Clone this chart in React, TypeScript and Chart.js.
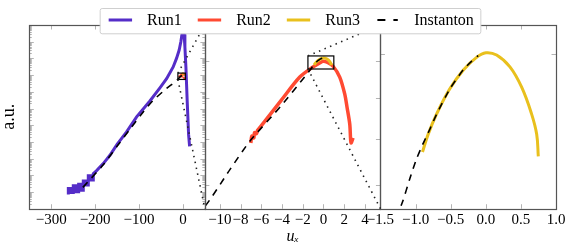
import React, { useEffect, useRef } from 'react';
import { Chart, registerables } from 'chart.js';

Chart.register(...registerables);

const FONT = "'Liberation Serif', 'DejaVu Serif', serif";

// ---- legend / series ----
const LEGEND_LABELS = ['Run1', 'Run2', 'Run3', 'Instanton'];
const SERIES_COLORS = ['#552dc8', '#ff4a32', '#e9c01d', '#000000'];
const SERIES_WIDTHS = [3, 3.5, 3, 1.6];
const INSTANTON_DASH = [7, 6];

// ---- axes (x in u_x, y in log10 of a.u.) ----
const X1_RANGE = [-350, 50];
const X2_RANGE = [-11.45, 5.5];
const X3_RANGE = [-1.5, 1.0];
const Y1_RANGE = [-11, 0];
const Y2_RANGE = [-3.26, -2.88];
const Y3_RANGE = [-2.971, -2.944];

const X1_TICKS = [-300, -200, -100, 0];
const X1_LABELS = ['−300', '−200', '−100', '0'];
const X2_TICKS = [-10, -8, -6, -4, -2, 0, 2, 4];
const X2_LABELS = ['−10', '−8', '−6', '−4', '−2', '0', '2', '4'];
const X3_TICKS = [-1.5, -1.0, -0.5, 0.0, 0.5, 1.0];
const X3_LABELS = ['−1.5', '−1.0', '−0.5', '0.0', '0.5', '1.0'];
const X_TITLE = 'uₓ';
const Y_TITLE = 'a.u.';

const Y1_MAJOR = [-10, -9, -8, -7, -6, -5, -4, -3, -2, -1];
const Y1_DECADES = [-11, -10, -9, -8, -7, -6, -5, -4, -3, -2, -1];
const Y1_MINOR_OFFSETS = [0.301, 0.477, 0.602, 0.699, 0.778, 0.845, 0.903, 0.954];
const Y2_TICKS = [-2.955, -3.032, -3.116, -3.211];
const Y3_TICKS = [-2.9483];

// ---- data ----
const RUN1_X = [-261.1, -261.1, -255.8, -255.8, -249.8, -249.8, -243.7, -243.7, -237.6, -237.6, -231.5, -231.5, -227, -227, -220.9, -220.9, -215.6, -215.6, -210.3, -210.3, -204.2, -204.2, -196.6, -181.5, -166.3, -150, -128.3, -105.5, -75.2, -52.4, -37.2, -22.2, -14.6, -8.5, -4.6, -2.4, 0.5, 2.6, 4.5, 6.8, 9.7, 12.9, 15.2];
const RUN1_Y = [-10.15, -9.79, -9.79, -10.03, -10.03, -9.62, -9.62, -9.99, -9.99, -9.54, -9.54, -9.89, -9.89, -9.34, -9.34, -9.58, -9.58, -9.02, -9.02, -9.28, -9.28, -8.9, -8.72, -8.3, -7.8, -7.15, -6.4, -5.5, -4.55, -3.76, -3.21, -2.51, -2.0, -1.5, -0.99, -0.59, -0.4, -0.55, -1.3, -2.51, -4.53, -6.55, -7.26];

const RUN2_X = [-7.01, -6.916, -6.723, -6.658, -6.465, -6.369, -6.144, -4.1, -2.285, -1.0, -0.356, -0.04, 0.4, 0.927, 1.57, 2.05, 2.28, 2.54, 2.66, 2.86];
const RUN2_Y = [-3.1238, -3.1098, -3.1133, -3.1028, -3.1049, -3.0979, -3.0923, -3.0365, -2.9877, -2.9667, -2.9583, -2.955, -2.9575, -2.9653, -2.9877, -3.0225, -3.0505, -3.0853, -3.1238, -3.1133];

const RUN3_X = [-0.901, -0.821, -0.701, -0.512, -0.322, -0.131, 0.002, 0.154, 0.344, 0.511, 0.653, 0.725, 0.748];
const RUN3_Y = [-2.96266, -2.96007, -2.9571, -2.95338, -2.95065, -2.94876, -2.94808, -2.94842, -2.95016, -2.95314, -2.9571, -2.96007, -2.9633];

const INST_X = [-228, -181.5, -149.7, -122.3, -96.4, -69.1, -39.5, -20, -11.45, -9, -7.11, -4.0, -2.0, -1.186, -1.082, -0.987, -0.9, -0.8, -0.7, -0.512, -0.322, -0.2, -0.108];
const INST_Y = [-9.72, -8.37, -7.25, -6.3, -5.4, -4.55, -3.85, -3.45, -3.255, -3.178, -3.1203, -3.045, -2.992, -2.97, -2.9666, -2.9637, -2.9616, -2.9594, -2.9571, -2.9534, -2.9506, -2.9493, -2.9485];

const TICK_COLOR = '#b4b4b4';
const FRAME_COLOR = '#555555';

const pts = (xs: number[], ys: number[]) => xs.map((x, i) => ({ x, y: ys[i] }));

function series(idx: number, xs: number[], ys: number[], p: number, tension: number) {
  const ds: any = {
    label: LEGEND_LABELS[idx],
    data: pts(xs, ys),
    xAxisID: 'x' + p,
    yAxisID: 'y' + p,
    borderColor: SERIES_COLORS[idx],
    backgroundColor: SERIES_COLORS[idx],
    borderWidth: SERIES_WIDTHS[idx],
    pointRadius: 0,
    pointHoverRadius: 0,
    fill: false,
    tension,
    order: 3 - idx,
  };
  if (idx === 3) ds.borderDash = INSTANTON_DASH;
  return ds;
}

function xScale(range: number[], ticks: number[], labels: string[], title?: string) {
  return {
    type: 'linear',
    position: 'bottom',
    stack: 'panels',
    stackWeight: 1,
    min: range[0],
    max: range[1],
    afterBuildTicks: (axis: any) => {
      axis.ticks = ticks.map((v) => ({ value: v }));
    },
    ticks: {
      autoSkip: false,
      maxRotation: 0,
      minRotation: 0,
      padding: 3.8,
      color: '#000',
      font: { family: FONT, size: 15, lineHeight: 1.0 },
      callback: (_v: any, i: number) => labels[i],
    },
    grid: { display: false, drawTicks: false },
    border: { display: false },
    title: title
      ? { display: true, text: title, color: '#000', font: { family: FONT, size: 16, style: 'italic', lineHeight: 0.95 }, padding: { top: -2.2, bottom: 4.5 } }
      : { display: false },
  };
}

function yScale(range: number[], visible: boolean) {
  return {
    type: 'linear',
    position: 'left',
    display: visible,
    min: range[0],
    max: range[1],
    ticks: { display: false },
    grid: { display: false, drawTicks: false },
    border: { display: false },
    title: visible
      ? { display: true, text: Y_TITLE, color: '#000', font: { family: FONT, size: 18, lineHeight: 1.0 }, padding: { top: 0, bottom: 11.3 } }
      : { display: false },
  };
}

const clipPlugin = {
  id: 'panelClip',
  beforeDatasetDraw(chart: any, args: any) {
    const { xScale: xs, yScale: ys } = args.meta;
    const ctx = chart.ctx;
    ctx.save();
    ctx.beginPath();
    ctx.rect(xs.left, ys.top, xs.right - xs.left, ys.bottom - ys.top);
    ctx.clip();
  },
  afterDatasetDraw(chart: any) {
    chart.ctx.restore();
  },
};

const framePlugin = {
  id: 'panelFrames',
  afterDatasetsDraw(chart: any) {
    const ctx = chart.ctx;
    const panels = [
      { x: 'x1', y: 'y1', xt: X1_TICKS, yMaj: Y1_MAJOR, yMin: Y1_DECADES.flatMap((d) => Y1_MINOR_OFFSETS.map((o) => d + o)) },
      { x: 'x2', y: 'y2', xt: X2_TICKS, yMaj: Y2_TICKS, yMin: [] as number[] },
      { x: 'x3', y: 'y3', xt: X3_TICKS, yMaj: Y3_TICKS, yMin: [] as number[] },
    ];
    ctx.save();
    for (const p of panels) {
      const xs = chart.scales[p.x];
      const ys = chart.scales[p.y];
      const L = xs.left, R = xs.right, T = ys.top, B = ys.bottom;
      ctx.strokeStyle = TICK_COLOR;
      ctx.lineWidth = 1;
      ctx.beginPath();
      for (const v of p.xt) {
        const px = Math.round(xs.getPixelForValue(v)) + 0.5;
        ctx.moveTo(px, B); ctx.lineTo(px, B - 4.5);
        ctx.moveTo(px, T); ctx.lineTo(px, T + 4.5);
      }
      for (const v of p.yMaj) {
        const py = Math.round(ys.getPixelForValue(v)) + 0.5;
        ctx.moveTo(L, py); ctx.lineTo(L + 4.5, py);
        ctx.moveTo(R, py); ctx.lineTo(R - 4.5, py);
      }
      for (const v of p.yMin) {
        if (v <= ys.min || v >= ys.max) continue;
        const py = Math.round(ys.getPixelForValue(v)) + 0.5;
        ctx.moveTo(L, py); ctx.lineTo(L + 2.5, py);
        ctx.moveTo(R, py); ctx.lineTo(R - 2.5, py);
      }
      ctx.stroke();
    }
    ctx.strokeStyle = FRAME_COLOR;
    ctx.lineWidth = 1.2;
    for (const p of panels) {
      const xs = chart.scales[p.x];
      const ys = chart.scales[p.y];
      ctx.strokeRect(Math.round(xs.left) + 0.5, Math.round(ys.top) + 0.5, Math.round(xs.right) - Math.round(xs.left), Math.round(ys.bottom) - Math.round(ys.top));
    }
    ctx.restore();
  },
};

function drawInset(chart: any, px: string, py: string, xr: number[], yr: number[], tx: string, ty: string) {
  const ctx = chart.ctx;
  const xs = chart.scales[px], ys = chart.scales[py];
  const txs = chart.scales[tx], tys = chart.scales[ty];
  const x0 = xs.getPixelForValue(xr[0]);
  const x1 = xs.getPixelForValue(xr[1]);
  const yT = ys.getPixelForValue(yr[1]);
  const yB = ys.getPixelForValue(yr[0]);
  ctx.save();
  ctx.strokeStyle = '#000';
  ctx.lineWidth = 1.2;
  ctx.setLineDash([]);
  ctx.strokeRect(x0, yT, x1 - x0, yB - yT);
  ctx.strokeStyle = '#222';
  ctx.lineWidth = 1.6;
  ctx.setLineDash([1.5, 4.5]);
  ctx.beginPath();
  ctx.moveTo(x0, yT); ctx.lineTo(txs.left, tys.top);
  ctx.moveTo(x0, yB); ctx.lineTo(txs.left, tys.bottom);
  ctx.stroke();
  ctx.restore();
}

const insetPlugin = {
  id: 'insets',
  afterDatasetsDraw(chart: any) {
    drawInset(chart, 'x1', 'y1', X2_RANGE, Y2_RANGE, 'x2', 'y2');
    drawInset(chart, 'x2', 'y2', X3_RANGE, Y3_RANGE, 'x3', 'y3');
  },
};

const legendPlugin = {
  id: 'topLegend',
  afterDraw(chart: any) {
    const ctx = chart.ctx;
    ctx.save();
    ctx.font = `16px ${FONT}`;
    const sampleW = 23.4, gapText = 15, gapEntry = 16, padL = 9, padR = 6.5;
    const widths = LEGEND_LABELS.map((t) => ctx.measureText(t).width);
    const total = padL + padR + widths.reduce((a, w) => a + sampleW + gapText + w, 0) + gapEntry * (LEGEND_LABELS.length - 1);
    const left = chart.width / 2 - total / 2;
    const top = 8, h = 25.3;
    ctx.beginPath();
    ctx.roundRect(left + 0.5, top + 0.5, total, h, 2);
    ctx.fillStyle = '#ffffff';
    ctx.fill();
    ctx.strokeStyle = '#cfcfcf';
    ctx.lineWidth = 1;
    ctx.stroke();
    let x = left + padL;
    const cy = 20;
    LEGEND_LABELS.forEach((label, i) => {
      ctx.strokeStyle = SERIES_COLORS[i];
      ctx.lineWidth = i === 3 ? 1.8 : 3;
      ctx.setLineDash(i === 3 ? [8, 8] : []);
      ctx.beginPath();
      if (i === 3) { ctx.moveTo(x + 1.5, cy); ctx.lineTo(x + sampleW - 1.5, cy); }
      else { ctx.moveTo(x, cy); ctx.lineTo(x + sampleW, cy); }
      ctx.stroke();
      ctx.setLineDash([]);
      ctx.fillStyle = '#000';
      ctx.textBaseline = 'middle';
      ctx.textAlign = 'left';
      ctx.fillText(label, x + sampleW + gapText, cy + 0.5);
      x += sampleW + gapText + widths[i] + gapEntry;
    });
    ctx.restore();
  },
};

export default function App() {
  const ref = useRef<HTMLCanvasElement>(null);
  useEffect(() => {
    const datasets = [
      series(0, RUN1_X, RUN1_Y, 1, 0),
      series(1, RUN2_X, RUN2_Y, 1, 0.3),
      series(2, RUN3_X, RUN3_Y, 1, 0.4),
      series(3, INST_X, INST_Y, 1, 0.2),
      series(1, RUN2_X, RUN2_Y, 2, 0.3),
      series(2, RUN3_X, RUN3_Y, 2, 0.4),
      series(3, INST_X, INST_Y, 2, 0.2),
      series(2, RUN3_X, RUN3_Y, 3, 0.4),
      series(3, INST_X, INST_Y, 3, 0.2),
    ];
    const chart = new Chart(ref.current as HTMLCanvasElement, {
      type: 'line',
      data: { datasets },
      options: {
        responsive: false,
        maintainAspectRatio: false,
        devicePixelRatio: 1,
        animation: false,
        events: [],
        layout: { padding: { left: 0, right: 24, top: 25, bottom: 0 } },
        plugins: { legend: { display: false }, tooltip: { enabled: false } },
        scales: {
          x1: xScale(X1_RANGE, X1_TICKS, X1_LABELS),
          x2: xScale(X2_RANGE, X2_TICKS, X2_LABELS, X_TITLE),
          x3: xScale(X3_RANGE, X3_TICKS, X3_LABELS),
          y1: yScale(Y1_RANGE, true),
          y2: yScale(Y2_RANGE, false),
          y3: yScale(Y3_RANGE, false),
        } as any,
      },
      plugins: [clipPlugin, framePlugin, insetPlugin, legendPlugin],
    } as any);
    return () => chart.destroy();
  }, []);
  return (
    <div style={{ position: 'fixed', left: 0, top: 0, width: 580, height: 243, background: '#ffffff' }}>
      <canvas ref={ref} width={580} height={243} style={{ display: 'block', width: 580, height: 243 }} />
    </div>
  );
}
